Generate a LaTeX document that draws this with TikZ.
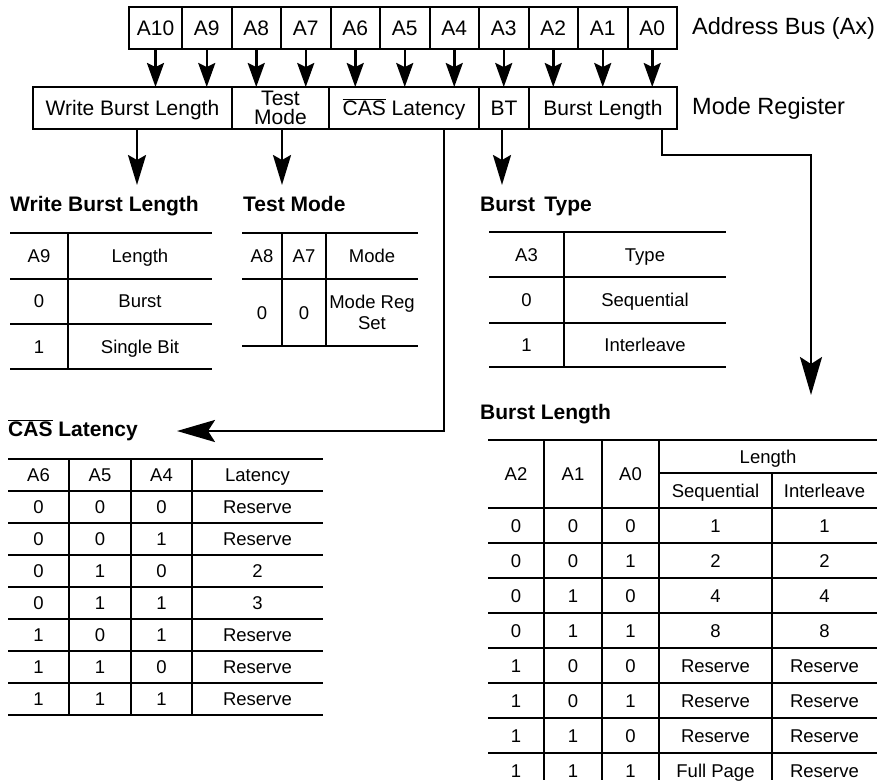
\documentclass[tikz,border=0pt]{standalone}
\usepackage{fontspec}
\setmainfont{Liberation Sans}
\usetikzlibrary{arrows.meta,positioning}
\tikzset{
	x=1pt, y=-1pt,
	field/.style={draw, line width=2pt, inner sep=0pt, outer sep=0pt, minimum height=42pt, align=center, font=\fontsize{21}{19.5}\selectfont},
	oneline/.style={text height=15pt, text depth=0pt},
	busarrow/.style={-{Stealth[length=24pt,width=17pt,inset=4pt]}, line width=2.5pt},
	downarrow/.style={-{Stealth[length=30pt,width=18pt,inset=5pt]}, line width=2.5pt},
	bigarrow/.style={-{Stealth[length=38pt,width=22pt,inset=7pt]}, line width=2.5pt},
	side/.style={anchor=west, inner sep=0pt, font=\fontsize{23.5}{26}\selectfont},
	ttl/.style={anchor=base west, inner sep=0pt, font=\fontsize{21}{24}\selectfont\bfseries},
	rule/.style={line width=2.4pt},
	cell/.style={inner sep=0pt, text height=13.5pt, text depth=0pt, align=center, font=\fontsize{18.5}{20}\selectfont},
}

\begin{document}
\begin{tikzpicture}
	\useasboundingbox (0,0) rectangle (879,780);

	% address bus
	\node[field, oneline, minimum width=53pt] (a10) at (155.5,28) {A10};
	\foreach \i [remember=\i as \j (initially 10)] in {9,...,0}
		\node[field, oneline, minimum width=49.5pt, right=0pt of a\j] (a\i) {A\i};
	\node[side] (bus) at (692,28) {Address Bus (Ax)};

	% mode register
	\node[field, oneline, minimum width=199pt] (wbl) at (132.5,108) {Write Burst Length};
	\node[field, minimum width=97pt, right=0pt of wbl] (tm) {Test\\Mode};
	\node[field, oneline, minimum width=150pt, right=0pt of tm] (cas) {$\overline{\hbox{CAS}}$ Latency};
	\node[field, oneline, minimum width=50pt, right=0pt of cas] (bt) {BT};
	\node[field, oneline, minimum width=148pt, right=0pt of bt] (bl) {Burst Length};
	\node[side] (modereg) at (692,108) {Mode Register};

	\foreach \i in {10,...,0}
		\draw[busarrow] (a\i.south) -- (a\i.south |- wbl.north);

	\coordinate (wblend) at (137,185);
	\coordinate (tmend) at (282,185);
	\coordinate (btend) at (502,185);
	\coordinate (castip) at (177,431);
	\coordinate (bltip) at (811,395);
	\draw[downarrow] (wblend |- wbl.south) -- (wblend);
	\draw[downarrow] (tmend |- tm.south) -- (tmend);
	\draw[downarrow] (btend |- bt.south) -- (btend);
	\draw[bigarrow] ([xshift=40pt]cas.south) |- (castip);
	\draw[bigarrow] ([xshift=59pt]bl.south) -- ++(0,26) -| (bltip);

	% write burst length
	\node[ttl] (wblttl) at (10,211) {Write Burst Length};
	\foreach \y in {233,279,324,369}
		\draw[rule] (10,\y) -- (212,\y);
	\draw[rule] (68,233) -- (68,369);
	\foreach \a/\b [count=\k] in {A9/Length, 0/Burst, 1/Single Bit}{
		\node[cell] (wbla\k) at (39,{210.5+45.3*\k}) {\a};
		\node[cell] (wblb\k) at (140,{210.5+45.3*\k}) {\b};
	}

	% test mode
	\node[ttl] (tmttl) at (243,211) {Test Mode};
	\foreach \y in {233,279,346}
		\draw[rule] (242,\y) -- (418,\y);
	\foreach \x in {282,326}
		\draw[rule] (\x,233) -- (\x,346);
	\node[cell] (tma1) at (262,256) {A8};
	\node[cell] (tmb1) at (304,256) {A7};
	\node[cell] (tmc1) at (372,256) {Mode};
	\node[cell] (tma2) at (262,312.5) {0};
	\node[cell] (tmb2) at (304,312.5) {0};
	\node[inner sep=0pt, align=center, font=\fontsize{18.5}{21}\selectfont] (tmc2) at (372,312.5) {Mode Reg\\Set};

	% burst type
	\node[ttl] (btttl) at (480,211) {Burst\, Type};
	\foreach \y in {232,277,323,367}
		\draw[rule] (489,\y) -- (726,\y);
	\draw[rule] (564,232) -- (564,367);
	\foreach \a/\b [count=\k] in {A3/Type, 0/Sequential, 1/Interleave}{
		\node[cell] (bta\k) at (526.5,{209.5+45*\k}) {\a};
		\node[cell] (btb\k) at (645,{209.5+45*\k}) {\b};
	}

	% cas latency
	\node[ttl] (casttl) at (8,436) {$\overline{\hbox{CAS}}$ Latency};
	\foreach \y in {459,491,523,555,587,619,651,683,715}
		\draw[rule] (8,\y) -- (323,\y);
	\foreach \x in {69,131,192}
		\draw[rule] (\x,459) -- (\x,715);
	\foreach \p/\q/\r/\s [count=\k from 0] in {A6/A5/A4/Latency, 0/0/0/Reserve, 0/0/1/Reserve, 0/1/0/2, 0/1/1/3, 1/0/1/Reserve, 1/1/0/Reserve, 1/1/1/Reserve}{
		\node[cell] (casa\k) at (38.5,{475+32*\k}) {\p};
		\node[cell] (casb\k) at (100,{475+32*\k}) {\q};
		\node[cell] (casc\k) at (161.5,{475+32*\k}) {\r};
		\node[cell] (casd\k) at (257.5,{475+32*\k}) {\s};
	}

	% burst length
	\node[ttl] (blttl) at (480,419) {Burst Length};
	\foreach \y in {440,508,543,578,613,648,683,718,753}
		\draw[rule] (488,\y) -- (877,\y);
	\draw[rule] (659,473) -- (877,473);
	\foreach \x in {544,602,659}
		\draw[rule] (\x,440) -- (\x,780);
	\draw[rule] (772,473) -- (772,780);
	\node[cell] (blh1) at (516,474) {A2};
	\node[cell] (blh2) at (573,474) {A1};
	\node[cell] (blh3) at (630.5,474) {A0};
	\node[cell] (blh4) at (768,456.5) {Length};
	\node[cell] (blh5) at (715.5,490.5) {Sequential};
	\node[cell] (blh6) at (824.5,490.5) {Interleave};
	\foreach \p/\q/\r/\s/\t [count=\k] in {0/0/0/1/1, 0/0/1/2/2, 0/1/0/4/4, 0/1/1/8/8, 1/0/0/Reserve/Reserve, 1/0/1/Reserve/Reserve, 1/1/0/Reserve/Reserve, 1/1/1/Full Page/Reserve}{
		\node[cell] (bla\k) at (516,{490.5+35*\k}) {\p};
		\node[cell] (blb\k) at (573,{490.5+35*\k}) {\q};
		\node[cell] (blc\k) at (630.5,{490.5+35*\k}) {\r};
		\node[cell] (bld\k) at (715.5,{490.5+35*\k}) {\s};
		\node[cell] (ble\k) at (824.5,{490.5+35*\k}) {\t};
	}
\end{tikzpicture}
\end{document}
